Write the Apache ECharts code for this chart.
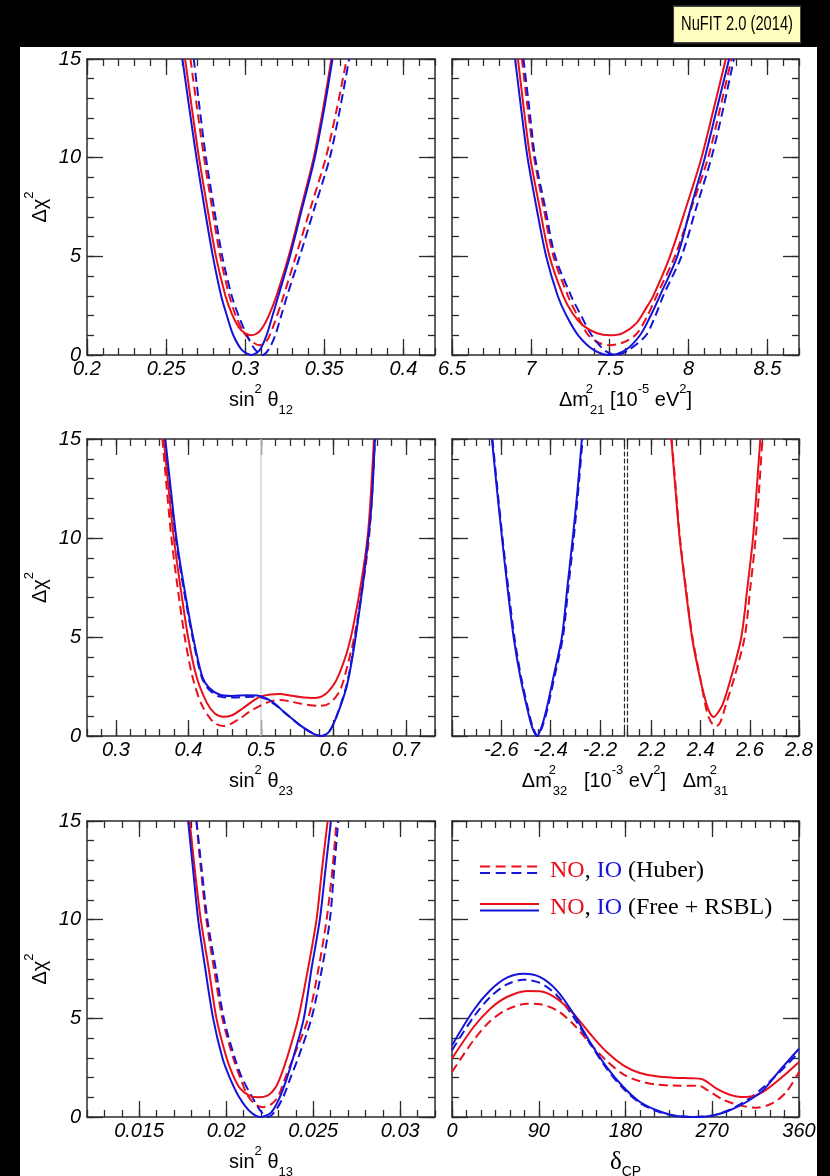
<!DOCTYPE html>
<html><head><meta charset="utf-8">
<script src="https://cdn.jsdelivr.net/npm/echarts@6/dist/echarts.min.js"></script>
<style>html,body{margin:0;padding:0;background:#000;}#c{width:830px;height:1176px;}</style>
</head><body><div id="c"></div>
<script>
// ---------------- data ----------------
const chi2Labels = [0, 5, 10, 15];
const th12Labels = [0.2, 0.25, 0.3, 0.35, 0.4];
const dm21Labels = [6.5, 7, 7.5, 8, 8.5];
const th23Labels = [0.3, 0.4, 0.5, 0.6, 0.7];
const dm32Labels = [-2.6, -2.4, -2.2];
const dm32Major = [-2.8, -2.6, -2.4, -2.2];
const dm31Labels = [2.2, 2.4, 2.6, 2.8];
const th13Labels = [0.015, 0.02, 0.025, 0.03];
const dcpLabels = [0, 90, 180, 270, 360];
const th23Marker = [0.5];

// sin^2 theta12
const th12_IO_free = [[0.2603,15],[0.2647,12.5],[0.2692,10],[0.2742,7.5],[0.2796,5],[0.2848,3],[0.2884,2],[0.2925,1],[0.2980,0.25],[0.3040,0],[0.3092,0.25],[0.3135,1],[0.3173,2],[0.3210,3],[0.3283,5],[0.3362,7.5],[0.3440,10],[0.3500,12.5],[0.3552,15]];
const th12_NO_free = [[0.2620,15],[0.2663,12.5],[0.2708,10],[0.2760,7.5],[0.2815,5],[0.2875,3],[0.2915,2.1],[0.2960,1.4],[0.3000,1.1],[0.3040,1.0],[0.3085,1.15],[0.3125,1.6],[0.3160,2.2],[0.3198,3],[0.3275,5],[0.3355,7.5],[0.3433,10],[0.3493,12.5],[0.3545,15]];
const th12_NO_huber = [[0.2654,15],[0.2696,12.5],[0.2740,10],[0.2790,7.5],[0.2842,5],[0.2900,3],[0.2940,2],[0.2990,1.15],[0.3040,0.7],[0.3090,0.5],[0.3135,0.7],[0.3175,1.4],[0.3235,2.8],[0.3320,5],[0.3415,7.5],[0.3510,10],[0.3580,12.5],[0.3642,15]];
const th12_IO_huber = [[0.2675,15],[0.2712,12.5],[0.2752,10],[0.2802,7.5],[0.2855,5],[0.2915,3],[0.2958,2],[0.3008,1.05],[0.3060,0.3],[0.3110,0],[0.3150,0.3],[0.3190,1],[0.3228,2],[0.3265,3],[0.3345,5],[0.3440,7.5],[0.3535,10],[0.3600,12.5],[0.3657,15]];

// Delta m^2_21
const dm21_IO_free = [[6.900,15],[6.938,12.5],[6.979,10],[7.035,7.5],[7.097,5],[7.170,3],[7.225,2],[7.300,1],[7.400,0.25],[7.500,0],[7.600,0.25],[7.692,1],[7.760,2],[7.818,3],[7.928,5],[8.015,7.5],[8.103,10],[8.180,12.5],[8.257,15]];
const dm21_NO_free = [[6.918,15],[6.955,12.5],[6.996,10],[7.055,7.5],[7.118,5],[7.205,3],[7.265,2.1],[7.330,1.5],[7.420,1.1],[7.500,1.0],[7.580,1.1],[7.668,1.6],[7.725,2.3],[7.776,3],[7.882,5],[7.985,7.5],[8.082,10],[8.160,12.5],[8.236,15]];
const dm21_NO_huber = [[6.943,15],[6.980,12.5],[7.021,10],[7.080,7.5],[7.143,5],[7.235,3],[7.295,2],[7.360,1.05],[7.430,0.62],[7.500,0.5],[7.580,0.62],[7.668,1.05],[7.740,2],[7.797,3],[7.913,5],[8.020,7.5],[8.124,10],[8.200,12.5],[8.272,15]];
const dm21_IO_huber = [[6.953,15],[6.990,12.5],[7.027,10],[7.090,7.5],[7.154,5],[7.255,3],[7.318,2],[7.386,1],[7.465,0.25],[7.540,0],[7.620,0.25],[7.730,1],[7.790,2],[7.839,3],[7.955,5],[8.050,7.5],[8.145,10],[8.220,12.5],[8.287,15]];

// sin^2 theta23
const th23_IO_free = [[0.368,15],[0.3755,12.5],[0.3833,10],[0.394,7.5],[0.4063,5],[0.4190,3],[0.428,2.45],[0.4432,2.08],[0.460,2.02],[0.480,2.06],[0.495,2.05],[0.5076,1.9],[0.520,1.6],[0.5306,1.25],[0.5536,0.55],[0.572,0.12],[0.583,0],[0.594,0.22],[0.604,0.96],[0.618,2.48],[0.627,4.17],[0.6365,6.53],[0.6457,9.23],[0.6526,11.76],[0.657,15]];
const th23_IO_huber = [[0.367,15],[0.3745,12.5],[0.3825,10],[0.393,7.5],[0.4055,5],[0.418,3],[0.427,2.4],[0.442,2.0],[0.460,1.94],[0.480,1.97],[0.495,1.98],[0.5076,1.86],[0.520,1.57],[0.5306,1.24],[0.5536,0.55],[0.572,0.12],[0.583,0],[0.594,0.22],[0.604,0.98],[0.618,2.55],[0.627,4.3],[0.6365,6.7],[0.6457,9.4],[0.6526,11.9],[0.657,15]];
const th23_NO_free = [[0.3658,15],[0.3725,12.5],[0.3797,10],[0.389,7.5],[0.3994,5],[0.411,3],[0.425,1.7],[0.436,1.15],[0.448,0.97],[0.460,1.05],[0.475,1.4],[0.490,1.8],[0.500,2.0],[0.513,2.1],[0.526,2.12],[0.540,2.05],[0.5536,1.97],[0.5743,1.92],[0.584,2.0],[0.593,2.25],[0.604,2.82],[0.618,4.17],[0.627,5.5],[0.6388,7.88],[0.648,10.4],[0.6558,15]];
const th23_NO_huber = [[0.364,15],[0.370,12.5],[0.3764,10],[0.385,7.5],[0.3948,5],[0.4054,3],[0.418,1.6],[0.434,0.71],[0.4487,0.5],[0.4708,0.88],[0.485,1.25],[0.500,1.55],[0.513,1.75],[0.526,1.82],[0.540,1.75],[0.5536,1.64],[0.5812,1.52],[0.595,1.66],[0.609,2.31],[0.620,3.66],[0.6296,5.18],[0.641,7.71],[0.650,10.4],[0.657,15]];

// Delta m^2_32 (IO) and Delta m^2_31 (NO)
const dm32_IO_free = [[-2.638,15],[-2.618,12.5],[-2.597,10],[-2.575,7.5],[-2.550,5],[-2.523,3],[-2.493,1.3],[-2.475,0.45],[-2.455,0],[-2.437,0.45],[-2.4176,1.3],[-2.388,3],[-2.354,5],[-2.332,7.5],[-2.310,10],[-2.290,12.5],[-2.273,15]];
const dm32_IO_huber = [[-2.636,15],[-2.616,12.5],[-2.595,10],[-2.572,7.5],[-2.547,5],[-2.520,3],[-2.490,1.3],[-2.472,0.45],[-2.452,0],[-2.434,0.45],[-2.414,1.3],[-2.384,3],[-2.350,5],[-2.328,7.5],[-2.306,10],[-2.287,12.5],[-2.270,15]];
const dm31_NO_free = [[2.2804,15],[2.297,12.5],[2.3143,10],[2.338,7.5],[2.3645,5],[2.3957,3],[2.4229,1.64],[2.438,1.15],[2.4527,0.96],[2.468,1.15],[2.4907,1.64],[2.5246,3],[2.5653,5],[2.590,7.5],[2.6128,10],[2.628,12.5],[2.6426,15]];
const dm31_NO_huber = [[2.2815,15],[2.2985,12.5],[2.3155,10],[2.3395,7.5],[2.366,5],[2.397,3],[2.420,1.5],[2.434,0.9],[2.448,0.6],[2.4636,0.5],[2.480,0.7],[2.504,1.64],[2.538,3],[2.579,5],[2.602,7.5],[2.6236,10],[2.638,12.5],[2.651,15]];

// sin^2 theta13
const th13_IO_free = [[0.01781,15],[0.0181,12.5],[0.01839,10],[0.0188,7.5],[0.01925,5],[0.01978,3],[0.0202,2],[0.02075,1],[0.0214,0.25],[0.0220,0],[0.0226,0.25],[0.02308,1],[0.0235,2],[0.02385,3],[0.02446,5],[0.0249,7.5],[0.02538,10],[0.0257,12.5],[0.02602,15]];
const th13_NO_free = [[0.0179,15],[0.0182,12.5],[0.01854,10],[0.0190,7.5],[0.01944,5],[0.02002,3],[0.0204,2.1],[0.0208,1.45],[0.0213,1.1],[0.02184,1.0],[0.0224,1.1],[0.0228,1.45],[0.0231,2],[0.0235,3],[0.02414,5],[0.0247,7.5],[0.02519,10],[0.0255,12.5],[0.02583,15]];
const th13_NO_huber = [[0.01829,15],[0.01855,12.5],[0.01886,10],[0.0193,7.5],[0.01978,5],[0.0204,3],[0.0208,2],[0.02126,1.05],[0.0217,0.62],[0.02212,0.5],[0.0226,0.65],[0.02299,1.05],[0.0234,2],[0.02385,3],[0.02471,5],[0.0253,7.5],[0.02577,10],[0.0261,12.5],[0.02634,15]];
const th13_IO_huber = [[0.01829,15],[0.0186,12.5],[0.01892,10],[0.0194,7.5],[0.01986,5],[0.02049,3],[0.0209,2],[0.02150,1],[0.0220,0.28],[0.02241,0],[0.0228,0.28],[0.02327,1],[0.0237,2],[0.02414,3],[0.0249,5],[0.0255,7.5],[0.02596,10],[0.0262,12.5],[0.02644,15]];

// delta_CP
const dcp_IO_free = [[0,3.63],[22.4,5.41],[39.7,6.42],[57,7.06],[74.2,7.26],[91.5,7.09],[108.7,6.42],[126,5.24],[143.2,3.8],[160.5,2.53],[177.8,1.52],[195,0.76],[212.3,0.34],[229.5,0.08],[250.2,0],[271,0.08],[288.2,0.34],[305.5,0.76],[322.7,1.35],[340,2.36],[360,3.46]];
const dcp_IO_huber = [[0,3.38],[22.4,5.07],[39.7,6.08],[57,6.72],[74.2,6.96],[91.5,6.79],[108.7,6.17],[126,5.07],[143.2,3.72],[160.5,2.45],[177.8,1.44],[195,0.71],[212.3,0.3],[229.5,0.08],[250.2,0],[271,0.08],[288.2,0.37],[305.5,0.84],[322.7,1.49],[340,2.28],[360,3.29]];
const dcp_NO_free = [[0,2.96],[22.4,4.56],[39.7,5.49],[57,6.08],[77.7,6.39],[91.5,6.37],[108.7,6.0],[126,5.24],[143.2,4.22],[160.5,3.29],[177.8,2.62],[195,2.23],[212.3,2.06],[229.5,1.99],[250.2,1.96],[258.9,1.93],[274.4,1.44],[288.2,1.13],[300.3,1.01],[312.4,1.05],[326.2,1.39],[343.4,2.06],[360,2.79]];
const dcp_NO_huber = [[0,2.28],[22.4,3.89],[39.7,4.86],[57,5.44],[77.7,5.74],[91.5,5.71],[108.7,5.41],[126,4.7],[143.2,3.72],[160.5,2.84],[177.8,2.16],[195,1.81],[212.3,1.64],[229.5,1.59],[257.2,1.57],[264,1.39],[281.3,0.88],[298.6,0.59],[315.8,0.47],[333.1,0.71],[346.9,1.27],[360,2.28]];

// ---------------- styling ----------------
const SANS = "'Liberation Sans', Arial, Helvetica, sans-serif";
const SERIF = "'Liberation Serif', 'Times New Roman', serif";
const RED = '#e8101a', BLUE = '#1414d8', AXC = '#2b2b2b', TXT = '#000';
const DASH = [9, 5];

function steps(min, max, step) {
  const out = []; const n = Math.round((max - min) / step);
  for (let i = 0; i <= n; i++) out.push(+(min + i * step).toFixed(6));
  return out;
}
const base = {color: TXT, fontWeight: 'normal', fontStyle: 'normal'};
const rich = {
  n: Object.assign({fontFamily: SANS, fontSize: 20, lineHeight: 34, verticalAlign: 'middle'}, base),
  sup: Object.assign({fontFamily: SANS, fontSize: 13, lineHeight: 16, verticalAlign: 'top'}, base),
  supz: Object.assign({fontFamily: SANS, fontSize: 13, lineHeight: 16, verticalAlign: 'top', width: 1}, base),
  sub: Object.assign({fontFamily: SANS, fontSize: 13, lineHeight: 16, verticalAlign: 'bottom'}, base),
  g: Object.assign({fontFamily: SERIF, fontSize: 25, lineHeight: 34, verticalAlign: 'middle'}, base),
  subcp: Object.assign({fontFamily: SANS, fontSize: 14, lineHeight: 16, verticalAlign: 'bottom'}, base)
};
const tickLabel = {fontFamily: SANS, fontSize: 20, fontStyle: 'italic', color: TXT};

const panels = [
  {grid: {left: 87, top: 59, width: 348, height: 296}, x: [0.2, 0.42], lab: th12Labels, maj: th12Labels, minor: 0.01, yLab: true,
   name: '{n|sin}{sup|2}{n| θ}{sub|12}', curves: [[th12_NO_huber, RED, 1], [th12_IO_huber, BLUE, 1], [th12_NO_free, RED, 0], [th12_IO_free, BLUE, 0]]},
  {grid: {left: 452, top: 59, width: 347, height: 296}, x: [6.5, 8.7], lab: dm21Labels, maj: dm21Labels, minor: 0.1, yLab: false,
   name: '{n|Δm}{supz|2}{sub|21}{n| [10}{sup|-5}{n| eV}{sup|2}{n|]}', curves: [[dm21_NO_huber, RED, 1], [dm21_IO_huber, BLUE, 1], [dm21_NO_free, RED, 0], [dm21_IO_free, BLUE, 0]]},
  {grid: {left: 87, top: 439, width: 348, height: 297}, x: [0.26, 0.74], lab: th23Labels, maj: th23Labels, minor: 0.02, yLab: true, marker: th23Marker,
   name: '{n|sin}{sup|2}{n| θ}{sub|23}', curves: [[th23_NO_huber, RED, 1], [th23_IO_huber, BLUE, 1], [th23_NO_free, RED, 0], [th23_IO_free, BLUE, 0]]},
  {grid: {left: 452, top: 439, width: 172.5, height: 297}, x: [-2.8, -2.1], lab: dm32Labels, maj: dm32Major, minor: 0.05, yLab: false, split: 'right',
   curves: [[dm32_IO_huber, BLUE, 1], [dm32_IO_free, BLUE, 0]]},
  {grid: {left: 627, top: 439, width: 172, height: 297}, x: [2.1, 2.8], lab: dm31Labels, maj: dm31Labels, minor: 0.05, yLab: false, split: 'left',
   curves: [[dm31_NO_huber, RED, 1], [dm31_NO_free, RED, 0]]},
  {grid: {left: 87, top: 821, width: 348, height: 296}, x: [0.012, 0.032], lab: th13Labels, maj: th13Labels, minor: 0.001, yLab: true,
   name: '{n|sin}{sup|2}{n| θ}{sub|13}', curves: [[th13_NO_huber, RED, 1], [th13_IO_huber, BLUE, 1], [th13_NO_free, RED, 0], [th13_IO_free, BLUE, 0]]},
  {grid: {left: 452, top: 821, width: 347, height: 296}, x: [0, 360], lab: dcpLabels, maj: dcpLabels, minor: 15, yLab: false,
   name: '{g|δ}{subcp|CP}', curves: [[dcp_NO_huber, RED, 1], [dcp_IO_huber, BLUE, 1], [dcp_NO_free, RED, 0], [dcp_IO_free, BLUE, 0]]}
];

// page (white sheet) and the white strip behind the split panel
const grids = [
  {show: true, backgroundColor: '#fff', borderWidth: 0, left: 20, top: 47, width: 797, height: 1129, outerBoundsMode: 'none'},
  {show: true, backgroundColor: '#fff', borderWidth: 0, left: 452, top: 439, width: 347, height: 297, outerBoundsMode: 'none'}
];
const xAxes = [], yAxes = [], series = [];
const lineS = {color: AXC, width: 1.5};
const tickS = {color: AXC, width: 1.3};

panels.forEach(p => {
  const gi = grids.length;
  grids.push(Object.assign({show: true, backgroundColor: '#fff', borderWidth: 0, outerBoundsMode: 'none'}, p.grid));
  const xb = {gridIndex: gi, type: 'value', min: p.x[0], max: p.x[1], splitLine: {show: false}, nameMoveOverlap: false};
  const yb = {gridIndex: gi, type: 'value', min: 0, max: 15, splitLine: {show: false}, nameMoveOverlap: false};
  const minors = steps(p.x[0], p.x[1], p.minor);
  const yMinors = steps(0, 15, 1);
  const xi = xAxes.length;
  xAxes.push(Object.assign({}, xb, {position: 'bottom',
    axisLine: {show: true, onZero: false, lineStyle: lineS},
    axisTick: {show: true, inside: true, length: 16, customValues: p.maj, lineStyle: tickS},
    axisLabel: Object.assign({show: true, customValues: p.lab, margin: 4}, tickLabel),
    name: p.name || '', nameLocation: 'middle', nameGap: 28, nameTextStyle: {rich: rich}}));
  xAxes.push(Object.assign({}, xb, {position: 'bottom', axisLine: {show: false, onZero: false},
    axisTick: {show: true, inside: true, length: 7, customValues: minors, lineStyle: tickS}, axisLabel: {show: false}}));
  xAxes.push(Object.assign({}, xb, {position: 'top', axisLine: {show: true, onZero: false, lineStyle: lineS},
    axisTick: {show: true, inside: true, length: 16, customValues: p.maj, lineStyle: tickS}, axisLabel: {show: false}}));
  xAxes.push(Object.assign({}, xb, {position: 'top', axisLine: {show: false, onZero: false},
    axisTick: {show: true, inside: true, length: 7, customValues: minors, lineStyle: tickS}, axisLabel: {show: false}}));

  const yi = yAxes.length;
  const leftDashed = p.split === 'left', rightDashed = p.split === 'right';
  yAxes.push(Object.assign({}, yb, {position: 'left',
    axisLine: {show: true, onZero: false, lineStyle: leftDashed ? {color: AXC, width: 1.2, type: [4, 3]} : lineS},
    axisTick: {show: !leftDashed, inside: true, length: 16, customValues: chi2Labels, lineStyle: tickS},
    axisLabel: Object.assign({show: p.yLab, customValues: chi2Labels, margin: 6}, tickLabel),
    name: p.yLab ? '{n|Δχ}{sup|2}' : '', nameLocation: 'middle', nameGap: 30, nameTextStyle: {rich: rich}}));
  yAxes.push(Object.assign({}, yb, {position: 'left', axisLine: {show: false, onZero: false},
    axisTick: {show: !leftDashed, inside: true, length: 7, customValues: yMinors, lineStyle: tickS}, axisLabel: {show: false}}));
  yAxes.push(Object.assign({}, yb, {position: 'right',
    axisLine: {show: true, onZero: false, lineStyle: rightDashed ? {color: AXC, width: 1.2, type: [4, 3]} : lineS},
    axisTick: {show: !rightDashed, inside: true, length: 16, customValues: chi2Labels, lineStyle: tickS}, axisLabel: {show: false}}));
  yAxes.push(Object.assign({}, yb, {position: 'right', axisLine: {show: false, onZero: false},
    axisTick: {show: !rightDashed, inside: true, length: 7, customValues: yMinors, lineStyle: tickS}, axisLabel: {show: false}}));

  p.curves.forEach((c, k) => {
    const s = {type: 'line', xAxisIndex: xi, yAxisIndex: yi, data: c[0], showSymbol: false, symbol: 'none',
      smooth: 0.3, clip: true, silent: true, animation: false, z: c[2] ? 3 : 4,
      lineStyle: {color: c[1], width: 2, type: c[2] ? DASH : 'solid'}};
    if (k === 0 && p.marker) {
      s.markLine = {silent: true, symbol: ['none', 'none'], label: {show: false}, animation: false,
        lineStyle: {color: '#d2d2d2', width: 1.5, type: 'solid'}, data: p.marker.map(v => ({xAxis: v})), z: 1};
    }
    series.push(s);
  });
});

const legendRich = {
  r: {fill: RED, fontFamily: SERIF, fontSize: 24},
  b: {fill: BLUE, fontFamily: SERIF, fontSize: 24},
  k: {fill: TXT, fontFamily: SERIF, fontSize: 24}
};
const option = {
  backgroundColor: '#000',
  animation: false,
  title: [
    {text: '{n|Δm}{supz|2}{sub|32}{n|   [10}{sup|-3}{n| eV}{sup|2}{n|]   Δm}{supz|2}{sub|31}', left: 625, top: 764, textAlign: 'center', padding: 0,
     textStyle: {fontWeight: 'normal', color: TXT, rich: rich}}
  ],
  grid: grids,
  xAxis: xAxes,
  yAxis: yAxes,
  series: series,
  graphic: [
    {type: 'text', x: 800, y: 7, scaleX: 0.7, z: 10,
     style: {text: 'NuFIT 2.0 (2014)', align: 'right', verticalAlign: 'top', fontFamily: SANS, fontSize: 21, lineHeight: 22, fill: TXT,
       backgroundColor: '#ffffc0', borderColor: '#444', borderWidth: 1.5, padding: [6, 10, 7, 10]}},
    {type: 'line', shape: {x1: 480, y1: 866.5, x2: 538, y2: 866.5}, style: {stroke: RED, lineWidth: 2, lineDash: [10, 5.7]}, z: 10},
    {type: 'line', shape: {x1: 480, y1: 873, x2: 538, y2: 873}, style: {stroke: BLUE, lineWidth: 2, lineDash: [10, 5.7]}, z: 10},
    {type: 'line', shape: {x1: 480, y1: 904, x2: 539, y2: 904}, style: {stroke: RED, lineWidth: 2}, z: 10},
    {type: 'line', shape: {x1: 480, y1: 910.5, x2: 539, y2: 910.5}, style: {stroke: BLUE, lineWidth: 2}, z: 10},
    {type: 'text', x: 550, y: 871, z: 10, style: {text: '{r|NO}{k|, }{b|IO}{k| (Huber)}', verticalAlign: 'middle', rich: legendRich}},
    {type: 'text', x: 550, y: 907.5, z: 10, style: {text: '{r|NO}{k|, }{b|IO}{k| (Free + RSBL)}', verticalAlign: 'middle', rich: legendRich}}
  ]
};
const chart = echarts.init(document.getElementById('c'), null, {renderer: 'canvas'});
chart.setOption(option);
</script></body></html>
